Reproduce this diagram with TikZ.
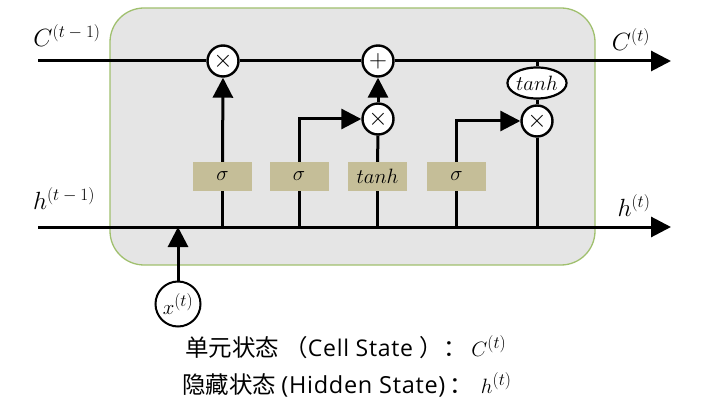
\documentclass[tikz,border=0pt]{standalone}
\usepackage{fontspec}
\newfontfamily\cjk{Noto Sans CJK SC}
\newfontfamily\lat[LetterSpace=3]{Open Sans}
\usetikzlibrary{arrows.meta,shapes.geometric}
\definecolor{cellfill}{RGB}{229,229,229}
\definecolor{celledge}{RGB}{160,192,110}
\definecolor{gatecol}{RGB}{197,190,152}
\newcommand\supx[2]{\mbox{\fontsize{#1}{#1}\selectfont$#2$}}
\begin{document}
\begin{tikzpicture}[x=1pt,y=-1pt,
  wire/.style={line width=3pt},
  arr/.style={wire,-{Triangle[length=20pt,width=20pt]}},
  op/.style={circle,draw,line width=2.4pt,fill=white,minimum size=31pt,inner sep=0pt,font=\fontsize{24}{24}\selectfont},
  gate/.style={fill=gatecol,minimum width=59pt,minimum height=29pt,inner sep=0pt,font=\fontsize{21}{21}\selectfont},
  lab/.style={font=\fontsize{24}{24}\selectfont,inner sep=0pt},
  captxt/.style={font=\fontsize{23.5}{23.5}\selectfont\cjk,inner sep=0pt,anchor=west}]
\useasboundingbox (0,0) rectangle (726,409);
% cell background
\draw[fill=cellfill,draw=celledge,line width=1.3pt,rounded corners=34pt] (110,8) rectangle (595,265);
% coordinates
\coordinate (cL) at (38,61);
\coordinate (cR) at (671,61);
\coordinate (hL) at (38,227);
\coordinate (hR) at (671,227);
% operators
\node[op] (m1) at (223,61) {$\times$};
\node[op] (pl) at (378,61) {$+$};
\node[op] (m2) at (378,119) {$\times$};
\node[op] (m3) at (537,121) {$\times$};
\node[ellipse,draw,line width=2.2pt,fill=white,minimum width=59pt,minimum height=31pt,inner sep=0pt,font=\fontsize{20}{20}\selectfont] (th) at (537,83) {$tanh$};
% gates
\node[gate] (g1) at (222.5,176.5) {$\sigma$};
\node[gate] (g2) at (299,176.5) {$\sigma$};
\node[gate] (g3) at (377.5,176.5) {$tanh$};
\node[gate] (g4) at (456.5,176.5) {$\sigma$};
% input
\node[circle,draw,line width=2pt,fill=white,minimum size=45pt,inner sep=0pt,font=\fontsize{22}{22}\selectfont] (x) at (178,304) {$x^{\supx{17}{(t)}}$};
% cell state line
\draw[wire] (cL) -- (m1);
\draw[wire] (m1) -- (pl);
\draw[arr] (pl) -- (cR);
% hidden line
\draw[arr] (hL) -- (hR);
% gate wires
\draw[wire] (g1 |- hL) -- (g1.south);
\draw[arr] (g1.north) -- (m1.south);
\draw[wire] (g2 |- hL) -- (g2.south);
\draw[arr] (g2.north) |- (m2.west);
\draw[wire] (g3 |- hL) -- (g3.south);
\draw[wire] (g3.north) -- (m2.south);
\draw[arr] (m2.north) -- (pl.south);
\draw[wire] (g4 |- hL) -- (g4.south);
\draw[arr] (g4.north) |- (m3.west);
\draw[wire] (th.north) -- (th |- cL);
\draw[wire] (th.south) -- (m3.north);
\draw[wire] (m3.south) -- (m3 |- hL);
\draw[arr] (x.north) -- (x |- hL);
% labels
\node[lab] (lc0) at (67,36) {$C^{\supx{17}{(t-1)}}$};
\node[lab] (lh0) at (64,199) {$h^{\supx{17}{(t-1)}}$};
\node[lab] (lc1) at (631,40) {$C^{\supx{17}{(t)}}$};
\node[lab] (lh1) at (634,206) {$h^{\supx{17}{(t)}}$};
% captions
\node[captxt] (t1) at (185,347) {单元状态\ （{\lat\fontsize{23}{23}\selectfont Cell State\ }）：\fontsize{21}{21}\selectfont\ $C^{\supx{16}{(t)}}$};
\node[captxt] (t2) at (182,385) {隐藏状态 {\lat\fontsize{23.5}{23.5}\selectfont (Hidden State)}\,：\fontsize{21}{21}\selectfont\ \,$h^{\supx{16}{(t)}}$};
\end{tikzpicture}
\end{document}
